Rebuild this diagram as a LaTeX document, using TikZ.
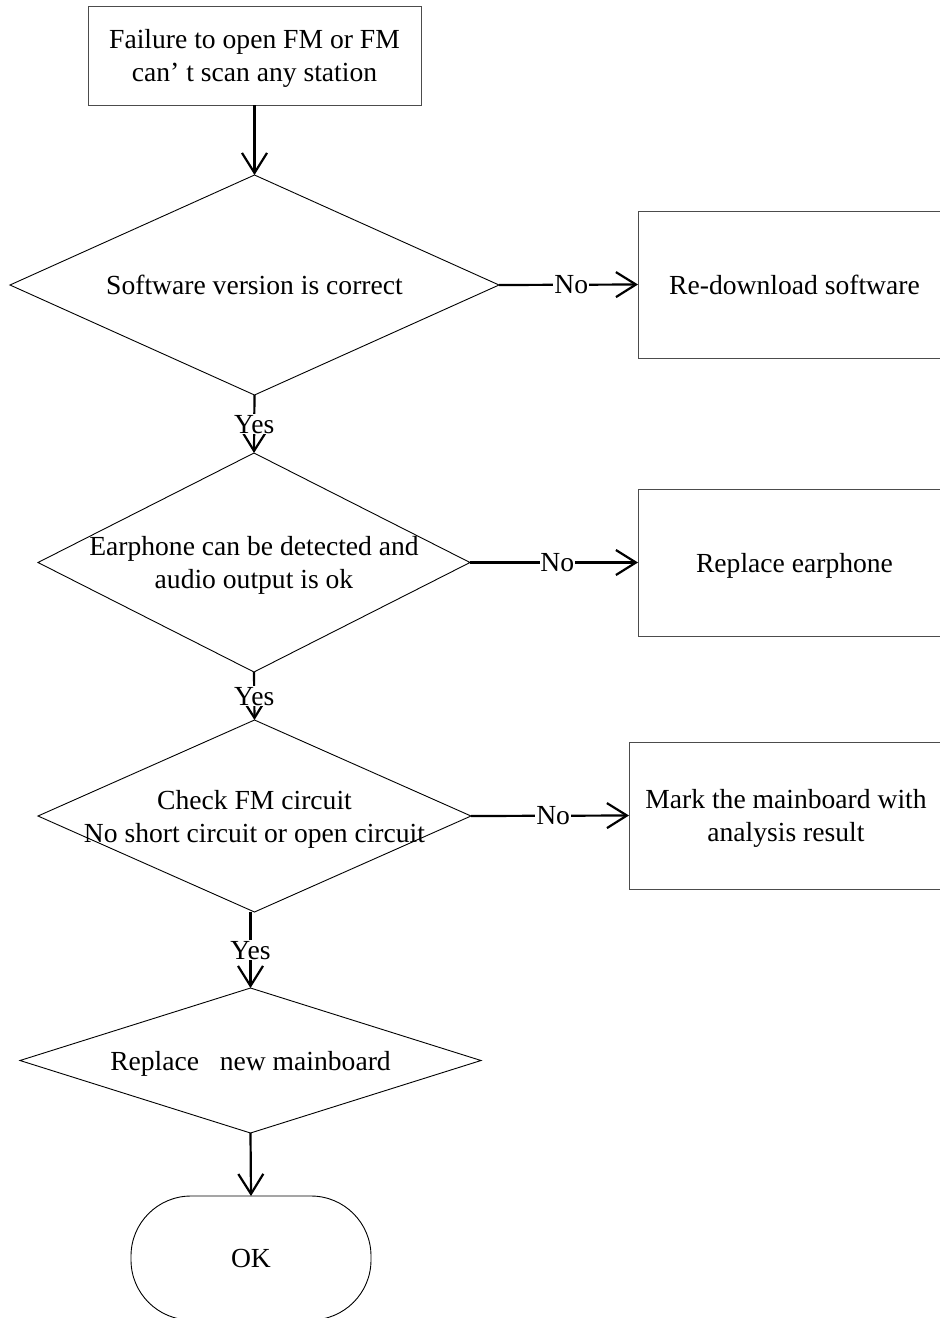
\documentclass[tikz,border=0pt]{standalone}
\usepackage{fontspec}
\setmainfont{Liberation Serif}
\usetikzlibrary{shapes.geometric,arrows.meta}
\begin{document}
\begin{tikzpicture}[x=1pt,y=-1pt,
  font=\fontsize{27.6}{33}\selectfont,
  every node/.append style={text depth=0pt},
  box/.style={draw=black!70, line width=1pt, rectangle, inner sep=0pt, outer sep=0pt, align=center},
  dia/.style={draw=black, line width=0.9pt, diamond, inner sep=0pt, outer sep=0pt},
  term/.style={draw=black, line width=0.9pt, rectangle, rounded corners=60pt, inner sep=0pt, outer sep=0pt},
  conn/.style={line width=2.2pt, -{Straight Barb[length=20pt,width=25pt]}},
  lbl/.style={fill=white, inner sep=1pt}]
\path[clip] (0,0) rectangle (940,1318);
\fill[white] (0,0) rectangle (940,1318);
% nodes
\node[box, minimum width=333pt, minimum height=99pt] (start) at (254.5,55.5) {Failure to open FM or FM\\can’ t scan any station};
\node[dia, minimum width=489pt, minimum height=220pt] (d1) at (254.5,285) {};
\node (t1) at (d1.center) {Software version is correct};
\node[box, minimum width=313pt, minimum height=147pt] (b1) at (794.5,284.5) {Re-download software};
\node[dia, minimum width=432pt, minimum height=219pt] (d2) at (254,562.5) {};
\node[align=center] (t2) at (d2.center) {Earphone can be detected and\\audio output is ok};
\node[box, minimum width=313pt, minimum height=147pt] (b2) at (794.5,562.5) {Replace earphone};
\node[dia, minimum width=433pt, minimum height=192pt] (d3) at (254.5,816) {};
\node[align=center] (t3) at (d3.center) {Check FM circuit\\No short circuit or open circuit};
\node[box, minimum width=314pt, minimum height=147pt] (b3) at (786,815.5) {Mark the mainboard with\\analysis result};
\node[dia, minimum width=461pt, minimum height=145pt] (d4) at (250.5,1060.5) {};
\node (t4) at (d4.center) {Replace~~~new mainboard};
\node[term, minimum width=240pt, minimum height=124pt] (ok) at (251,1258) {OK};
% connectors
\draw[conn] (start.south) -- (d1.north);
\draw[conn] (d1.east) -- node[lbl, pos=0.52]{No} (b1.west);
\draw[conn] (d1.south) -- node[lbl]{Yes} (d2.north);
\draw[conn] (d2.east) -- node[lbl, pos=0.52]{No} (b2.west);
\draw[conn] (d2.south) -- node[lbl]{Yes} (d3.north);
\draw[conn] (d3.east) -- node[lbl, pos=0.52]{No} (b3.west);
\draw[conn] (d3.south -| d4.north) -- node[lbl]{Yes} (d4.north);
\draw[conn] (d4.south) -- (ok.north);
\end{tikzpicture}
\end{document}
